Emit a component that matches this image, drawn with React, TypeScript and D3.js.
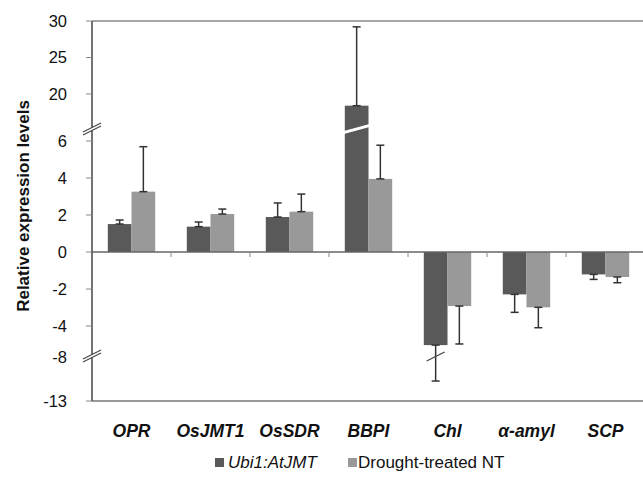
import React from "react";
import * as d3 from "d3";

// chart data
const categories = ["OPR", "OsJMT1", "OsSDR", "BBPI", "Chl", "α-amyl", "SCP"];
const seriesNames = ["Ubi1:AtJMT", "Drought-treated NT"];
const ubiValues = [1.51, 1.37, 1.89, 18.4, -5.03, -2.29, -1.21];
const ubiErrors = [0.22, 0.25, 0.76, 10.8, 5.7, 0.97, 0.27];
const ntValues = [3.26, 2.05, 2.18, 3.95, -2.92, -2.99, -1.35];
const ntErrors = [2.43, 0.27, 0.95, 1.82, 2.05, 1.1, 0.31];
const topTicks = [20, 25, 30];
const midTicks = [-4, -2, 0, 2, 4, 6];
const bottomTicks = [-13, -8];

const width = 643;
const height = 479;
const left = 92;
const right = 645;
const colors = ["#595959", "#999999"];
const font = "'Liberation Sans', Arial, sans-serif";

// broken y axis: three linear pieces
const yTop = d3.scaleLinear().domain([15, 30]).range([130.5, 21]);
const yMid = d3.scaleLinear().domain([-5.7, 6.7]).range([357.5, 128]);
const yBottom = d3.scaleLinear().domain([-13, -8]).range([401, 357]);
const y = (v: number) => {
  if (v > 6.7) return yTop(Math.max(v, 15));
  if (v < -5.7) return yBottom(Math.min(v, -8));
  return yMid(v);
};
const breakTop = 128;
const breakBottom = 357;

const x0 = d3.scaleBand<string>().domain(categories).range([left, right]);
const bw = x0.bandwidth();
const x1 = d3
  .scaleBand<string>()
  .domain(seriesNames)
  .range([bw * 0.2, bw * 0.8]);

const series = [
  { name: seriesNames[0], values: ubiValues, errors: ubiErrors },
  { name: seriesNames[1], values: ntValues, errors: ntErrors },
];

const AxisBreak = ({ cx, cy }: { cx: number; cy: number }) => (
  <g>
    <polygon
      points={`${cx - 9},${cy + 3} ${cx + 9},${cy - 6} ${cx + 9},${cy - 3} ${cx - 9},${cy + 6}`}
      fill="#fff"
    />
    <line x1={cx - 9} y1={cy + 3} x2={cx + 9} y2={cy - 6} stroke="#444" strokeWidth={1.2} />
    <line x1={cx - 9} y1={cy + 6} x2={cx + 9} y2={cy - 3} stroke="#444" strokeWidth={1.2} />
  </g>
);

const App = () => {
  const yTicks = [
    ...topTicks.map((t) => ({ t, py: yTop(t) })),
    ...midTicks.map((t) => ({ t, py: yMid(t) })),
    ...bottomTicks.map((t) => ({ t, py: yBottom(t) })),
  ];
  const zeroY = y(0);

  return (
    <svg
      width={width}
      height={height}
      style={{ position: "absolute", left: 0, top: 0, background: "#fff" }}
    >
      <rect width={width} height={height} fill="#fff" />

      {/* frame lines */}
      <line x1={left} x2={width} y1={21} y2={21} stroke="#8a8a8a" strokeWidth={1.5} />
      <line x1={left} x2={width} y1={401} y2={401} stroke="#777" strokeWidth={1.5} />

      {/* bars */}
      {series.map((s, si) =>
        s.values.map((v, i) => {
          const bx = x0(categories[i])! + x1(s.name)!;
          const w = x1.bandwidth();
          const y1 = y(v);
          return (
            <rect
              key={`${si}-${i}`}
              x={bx}
              y={Math.min(y1, zeroY)}
              width={w}
              height={Math.abs(y1 - zeroY)}
              fill={colors[si]}
            />
          );
        })
      )}

      {/* break across tall bar */}
      {series.map((s, si) =>
        s.values.map((v, i) => {
          if (v <= 6.7) return null;
          const bx = x0(categories[i])! + x1(s.name)!;
          const w = x1.bandwidth();
          return (
            <polygon
              key={`b-${si}-${i}`}
              points={`${bx - 1},${breakTop + 3} ${bx + w + 1},${breakTop - 4} ${bx + w + 1},${breakTop - 1} ${bx - 1},${breakTop + 6}`}
              fill="#fff"
            />
          );
        })
      )}

      {/* error bars */}
      {series.map((s, si) =>
        s.values.map((v, i) => {
          const cx = x0(categories[i])! + x1(s.name)! + x1.bandwidth() / 2;
          const end = v >= 0 ? v + s.errors[i] : v - s.errors[i];
          const ya = y(v);
          const yb = y(end);
          const crosses = end < -5.7 && v >= -5.7;
          return (
            <g key={`e-${si}-${i}`} stroke="#333" strokeWidth={1.5}>
              <line x1={cx} x2={cx} y1={ya} y2={yb} />
              <line x1={cx - 4} x2={cx + 4} y1={ya} y2={ya} />
              <line x1={cx - 4} x2={cx + 4} y1={yb} y2={yb} />
              {crosses && (
                <line
                  x1={cx - 9}
                  x2={cx + 9}
                  y1={breakBottom + 4}
                  y2={breakBottom - 5}
                  stroke="#444"
                  strokeWidth={1.2}
                />
              )}
            </g>
          );
        })
      )}

      {/* zero line and category ticks */}
      <line x1={left} x2={width} y1={zeroY} y2={zeroY} stroke="#666" strokeWidth={1.5} />
      {categories.slice(1).map((c) => (
        <line
          key={c}
          x1={x0(c)!}
          x2={x0(c)!}
          y1={zeroY}
          y2={zeroY + 5}
          stroke="#888"
        />
      ))}

      {/* y axis */}
      <line x1={left} x2={left} y1={21} y2={401} stroke="#444" strokeWidth={1.5} />
      {yTicks
        .filter((d) => d.t !== -8)
        .map((d) => (
          <line key={`t${d.t}`} x1={left - 6} x2={left} y1={d.py} y2={d.py} stroke="#888" />
        ))}
      <AxisBreak cx={left} cy={breakTop + 1} />
      <AxisBreak cx={left} cy={breakBottom - 1} />
      {yTicks.map((d) => (
        <text
          key={`l${d.t}`}
          x={67}
          y={d.py}
          dy="0.36em"
          textAnchor="end"
          fontFamily={font}
          fontSize={16.5}
          fill="#111"
        >
          {d.t}
        </text>
      ))}
      <text
        transform="translate(29,206) rotate(-90)"
        textAnchor="middle"
        fontFamily={font}
        fontSize={17}
        fontWeight="bold"
        fill="#111"
      >
        Relative expression levels
      </text>

      {/* category labels */}
      {categories.map((c) => (
        <text
          key={`c${c}`}
          x={x0(c)! + bw / 2}
          y={437}
          textAnchor="middle"
          fontFamily={font}
          fontSize={17.5}
          fontWeight="bold"
          fontStyle="italic"
          fill="#111"
        >
          {c}
        </text>
      ))}

      {/* legend */}
      <rect x={215} y={458} width={9} height={9} fill={colors[0]} />
      <text x={228} y={468} fontFamily={font} fontSize={17} fontStyle="italic" fill="#111">
        {seriesNames[0]}
      </text>
      <rect x={348} y={458} width={9} height={9} fill={colors[1]} />
      <text x={358} y={468} fontFamily={font} fontSize={17} fill="#111">
        {seriesNames[1]}
      </text>
    </svg>
  );
};

export default App;
